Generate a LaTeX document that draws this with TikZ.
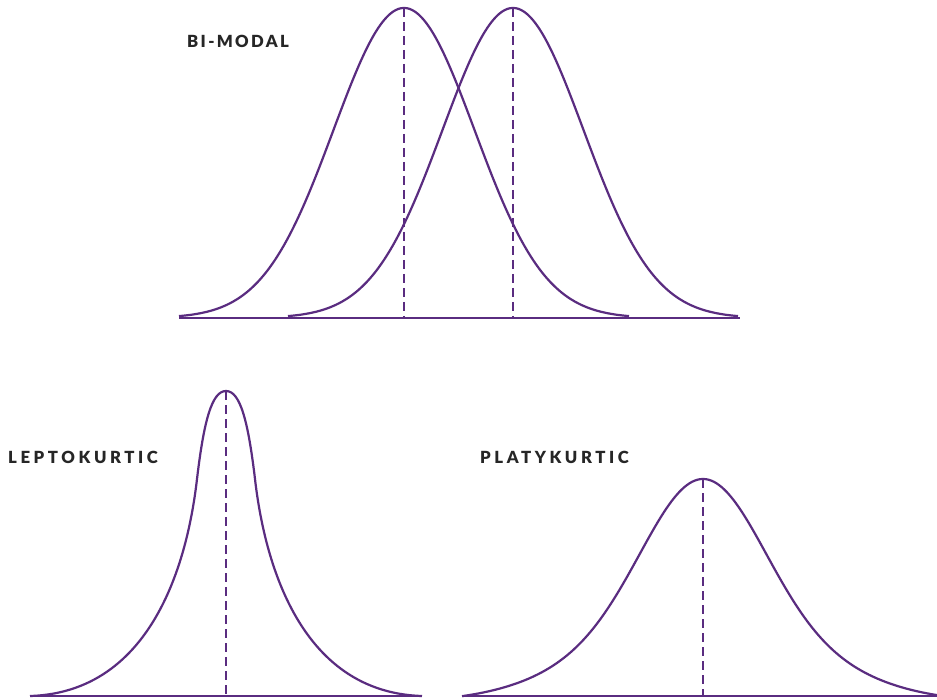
\documentclass[tikz,border=0pt]{standalone}
\usepackage{fontspec}
\setmainfont{Lato}[UprightFont=*-Regular,BoldFont=*-Bold]
\newfontfamily\labelfont{Lato}[UprightFont=*-Black,LetterSpace=21.5]
\newfontfamily\labelfontb{Lato}[UprightFont=*-Black,LetterSpace=14]
\definecolor{curvepurple}{RGB}{90,44,128}
\definecolor{labelgray}{RGB}{38,38,38}
\begin{document}
\begin{tikzpicture}[x=1pt,y=-1pt,
  curve/.style={draw=curvepurple,line width=2.2pt,line join=round},
  baseline/.style={draw=curvepurple,line width=2.4pt},
  meanline/.style={draw=curvepurple,line width=1.9pt,dash pattern=on 9pt off 5pt},
  title/.style={text=labelgray,inner sep=0pt,anchor=base west,font=\labelfont\fontsize{16.7}{18}\selectfont}]
\useasboundingbox[fill=white] (0,0) rectangle (937,700);

% ---------- BI-MODAL ----------
\node[title,font=\labelfontb\fontsize{16.7}{18}\selectfont] (tbi) at (187,47.5) {BI-MODAL};
\coordinate (bmL) at (179,318);
\coordinate (bmR) at (740,318);
\coordinate (p1top) at (404,8);
\coordinate (p1bot) at (404,318);
\coordinate (p2top) at (513,8);
\coordinate (p2bot) at (513,318);
\draw[meanline] (p1top) -- (p1bot);
\draw[meanline] (p2top) -- (p2bot);
\draw[curve] plot[domain=-225:225,samples=161,smooth] ({404+\x},{318-310*exp(-0.5*(\x/70.5)^2)});
\draw[curve] plot[domain=-225:225,samples=161,smooth] ({513+\x},{318-310*exp(-0.5*(\x/70.5)^2)});
\draw[baseline] (bmL) -- (bmR);

% ---------- LEPTOKURTIC ----------
\node[title] (tlep) at (8,463.3) {LEPTOKURTIC};
\coordinate (lpL) at (30,696);
\coordinate (lpR) at (422,696);
\coordinate (l3top) at (226,391);
\coordinate (l3bot) at (226,696);
\draw[meanline] (l3top) -- (l3bot);
\draw[curve] (lpL) .. controls (162,692) and (190,540) .. (197,479)
  .. controls (204,420) and (212,391) .. (l3top)
  .. controls (240,391) and (248,420) .. (255,479)
  .. controls (262,540) and (290,692) .. (lpR);
\draw[baseline] (lpL) -- (lpR);

% ---------- PLATYKURTIC ----------
\node[title] (tpla) at (480,463.3) {PLATYKURTIC};
\coordinate (plL) at (462,696);
\coordinate (plR) at (937,696);
\coordinate (p4top) at (703,479);
\coordinate (p4bot) at (703,696);
\draw[meanline] (p4top) -- (p4bot);
\draw[curve] plot[domain=-241:241,samples=181,smooth]
  ({703+\x},{696-217*((0.6*exp(-0.5*(\x/58)^2)+0.4*exp(-0.5*(\x/105)^2))-0.0295)/0.9705});
\draw[baseline] (plL) -- (plR);
\end{tikzpicture}
\end{document}
